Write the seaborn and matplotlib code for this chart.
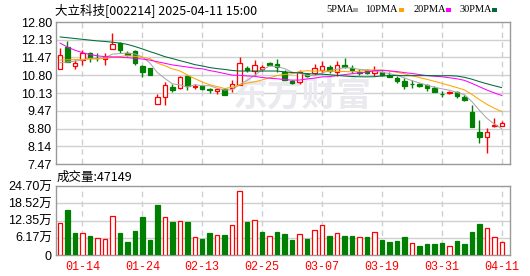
import matplotlib
matplotlib.use("Agg")
import matplotlib.pyplot as plt
from matplotlib.patches import Rectangle
import numpy as np
import pandas as pd
import seaborn as sns

# ---------------- data ----------------
dates = ['01-09', '01-10', '01-13', '01-14', '01-15', '01-16', '01-17', '01-20', '01-21', '01-22',
         '01-23', '01-24', '01-27', '02-05', '02-06', '02-07', '02-10', '02-11', '02-12', '02-13',
         '02-14', '02-17', '02-18', '02-19', '02-20', '02-21', '02-24', '02-25', '02-26', '02-27',
         '02-28', '03-03', '03-04', '03-05', '03-06', '03-07', '03-10', '03-11', '03-12', '03-13',
         '03-14', '03-17', '03-18', '03-19', '03-20', '03-21', '03-24', '03-25', '03-26', '03-27',
         '03-28', '03-31', '04-01', '04-02', '04-03', '04-07', '04-08', '04-09', '04-10', '04-11']

open_ = [11.05, 11.87, 11.15, 11.385, 11.625, 11.45, 11.42, 11.805, 12.01, 11.64,
         11.70, 11.13, 11.07, 9.74, 10.00, 10.37, 10.32, 10.755, 10.36, 10.40,
         10.27, 10.21, 10.30, 10.32, 10.435, 11.09, 10.96, 11.02, 11.26, 11.24,
         10.94, 10.60, 10.55, 10.85, 10.885, 10.98, 11.12, 10.92, 11.18, 11.09,
         10.94, 10.98, 10.87, 10.92, 10.81, 10.705, 10.585, 10.48, 10.47, 10.42,
         10.34, 10.115, 10.12, 10.17, 10.00, 9.43, 8.68, 8.49, 8.91, 8.90]
high = [11.82, 12.10, 11.37, 11.74, 11.69, 11.64, 11.62, 12.39, 12.06, 11.70,
        11.74, 11.19, 11.08, 10.10, 10.55, 10.49, 10.79, 10.80, 10.47, 10.43,
        10.34, 10.34, 10.34, 10.62, 11.47, 11.13, 11.39, 11.17, 11.30, 11.40,
        11.00, 10.62, 11.00, 10.90, 11.21, 11.33, 11.19, 11.34, 11.46, 11.17,
        11.02, 11.02, 11.15, 10.96, 10.93, 10.755, 10.70, 10.62, 10.51, 10.47,
        10.38, 10.21, 10.21, 10.21, 10.06, 9.68, 9.12, 8.81, 9.185, 9.08]
low = [11.05, 11.29, 11.04, 11.17, 11.31, 11.325, 11.19, 11.775, 11.655, 11.51,
       11.20, 10.72, 10.80, 9.74, 9.67, 10.17, 10.30, 10.25, 10.27, 10.25,
       10.12, 10.10, 10.05, 10.17, 10.42, 10.92, 10.81, 10.96, 11.17, 10.92,
       10.62, 10.49, 10.49, 10.74, 10.80, 10.87, 10.87, 10.79, 11.07, 10.90,
       10.81, 10.83, 10.79, 10.79, 10.72, 10.50, 10.27, 10.34, 10.36, 10.22,
       10.17, 10.00, 10.11, 9.93, 9.835, 8.86, 8.27, 7.89, 8.87, 8.88]
close = [11.55, 11.31, 11.27, 11.64, 11.44, 11.43, 11.50, 11.96, 11.74, 11.55,
         11.26, 10.94, 10.81, 9.97, 10.435, 10.25, 10.74, 10.40, 10.40, 10.27,
         10.23, 10.27, 10.06, 10.47, 11.25, 11.00, 11.20, 11.10, 11.20, 11.12,
         10.64, 10.52, 10.91, 10.79, 11.055, 11.16, 10.96, 11.17, 11.10, 10.98,
         10.90, 10.87, 10.99, 10.82, 10.74, 10.57, 10.40, 10.46, 10.40, 10.32,
         10.18, 10.10, 10.19, 10.02, 9.89, 8.87, 8.48, 8.68, 8.93, 9.02]

# volume in 万手
vol_wan = [11.57, 16.11, 8.0, 8.0, 6.8, 5.97, 5.73, 13.96, 8.0, 4.77,
           8.59, 13.72, 5.37, 18.02, 13.48, 11.93, 12.17, 11.93, 6.32, 5.73,
           8.0, 7.16, 7.16, 10.74, 22.9, 11.93, 12.53, 8.35, 6.80, 8.35,
           7.52, 5.37, 7.52, 5.73, 8.95, 10.74, 6.80, 8.0, 6.80, 6.80,
           6.32, 6.32, 8.23, 5.37, 4.77, 5.13, 6.32, 4.18, 3.22, 3.94,
           3.94, 4.41, 3.22, 5.01, 3.94, 8.23, 11.1, 9.55, 6.32, 4.7149]
vol_up = [1, 0, 0, 1, 0, 1, 1, 1, 0, 0,
          0, 0, 0, 0, 1, 0, 1, 0, 1, 0,
          0, 1, 0, 1, 1, 0, 1, 0, 1, 0,
          0, 0, 1, 0, 1, 1, 0, 1, 0, 0,
          1, 0, 1, 0, 0, 0, 0, 1, 0, 0,
          0, 0, 1, 0, 0, 0, 0, 1, 1, 1]

# moving-average values before a full window is available
ma5_head = [11.27, 11.30, 11.33, 11.37]
ma10_head = [11.37, 11.38, 11.39, 11.40, 11.41, 11.42, 11.44, 11.47, 11.50]
ma20_head = [12.01, 11.86, 11.74, 11.65, 11.58, 11.53, 11.50, 11.49, 11.48, 11.46,
             11.44, 11.41, 11.37, 11.31, 11.25, 11.19, 11.15, 11.11, 11.07]
ma30_head = [12.24, 12.21, 12.18, 12.15, 12.12, 12.09, 12.07, 12.04, 12.01, 11.96,
             11.88, 11.79, 11.69, 11.60, 11.50, 11.43, 11.35, 11.28, 11.20, 11.15,
             11.09, 11.05, 11.02, 10.98, 10.96, 10.96, 10.96, 10.96, 10.96]

ma_names = ['5PMA', '10PMA', '20PMA', '30PMA']
ma_windows = [5, 10, 20, 30]
ma_heads = [ma5_head, ma10_head, ma20_head, ma30_head]
ma_colors = ['#a8a8a8', '#ffa500', '#ff00ff', '#006b3a']

price_ticks = [7.47, 8.14, 8.80, 9.47, 10.13, 10.80, 11.47, 12.13, 12.80]
price_tick_labels = ['7.47', '8.14', '8.80', '9.47', '10.13', '10.80', '11.47', '12.13', '12.80']
vol_ticks = [0, 6.17, 12.35, 18.52, 24.70]
vol_tick_labels = ['0', '6.17万', '12.35万', '18.52万', '24.70万']
tick_dates = ['01-14', '01-24', '02-13', '02-25', '03-07', '03-19', '03-31', '04-11']

title = '大立科技[002214] 2025-04-11 15:00'
vol_title = '成交量:'
watermark = '东方财富'

# ---------------- style ----------------
sns.set_style('white')
plt.rcParams['font.family'] = ['Liberation Sans', 'Noto Sans CJK SC', 'DejaVu Sans']

W, H = 530, 276
fig = plt.figure(figsize=(W / 100, H / 100), dpi=100)


def fx(px):
    return px / W


def fy(py):
    return 1 - py / H


L, R = 56, 510
ax = fig.add_axes([fx(L), fy(164), fx(R) - fx(L), fy(22) - fy(164)])
axv = fig.add_axes([fx(L), fy(255), fx(R) - fx(L), fy(186) - fy(255)])

n = len(close)
x = np.arange(n)
o = np.array(open_)
c = np.array(close)
hi = np.array(high)
lo = np.array(low)
RED = '#ff0000'
GREEN = '#008000'

df = pd.DataFrame({'i': x, 'close': c})
for name, w, head in zip(ma_names, ma_windows, ma_heads):
    s = df['close'].rolling(w).mean()
    s.iloc[:w - 1] = head
    df[name] = s
long = df.melt(id_vars='i', value_vars=ma_names, var_name='ma', value_name='value')

xlim = (-0.53, 60.1)
tick_pos = [dates.index(d) for d in tick_dates]

# ---------------- price panel ----------------
ax.set_xlim(*xlim)
ax.set_ylim(price_ticks[0], price_ticks[-1])
ax.set_yticks(price_ticks)
ax.set_yticklabels(price_tick_labels)
ax.set_xticks(tick_pos)
ax.set_xticklabels([])
ax.tick_params(axis='both', length=0)
ax.tick_params(axis='y', pad=3, labelsize=9, labelcolor='#000000')
for t in price_ticks[1:-1]:
    ax.axhline(t, color='#d0d0d0', lw=1, zorder=0)
for p in tick_pos:
    ax.axvline(p, color='#cfcfcf', lw=1, ls=(0, (4, 3)), zorder=0)

ax.text((302 - L) / (R - L), (164 - 95.5) / 142, watermark, transform=ax.transAxes,
        ha='center', va='center', fontsize=25, fontweight='bold', color='#e9e9ee',
        family=['Noto Sans CJK SC'], zorder=1)

up = c >= o
edge = np.where(up, RED, GREEN)
face = np.where(up, '#ffffff', GREEN)
ax.vlines(x, lo, hi, colors=edge, linewidth=1, zorder=5)
ax.bar(x, np.maximum(np.abs(c - o), 0.004), bottom=np.minimum(o, c), width=0.6,
       color=face, edgecolor=edge, linewidth=0.9, zorder=6)

sns.lineplot(data=long, x='i', y='value', hue='ma', hue_order=ma_names,
             palette=dict(zip(ma_names, ma_colors)), legend=False, ax=ax,
             linewidth=0.75, zorder=7)
ax.set_xlabel('')
ax.set_ylabel('')

for sp in ax.spines.values():
    sp.set_color('#999999')
    sp.set_linewidth(1)

# ---------------- volume panel ----------------
axv.set_xlim(*xlim)
axv.set_ylim(0, vol_ticks[-1])
axv.set_yticks(vol_ticks)
axv.set_yticklabels(vol_tick_labels)
axv.set_xticks(tick_pos)
axv.set_xticklabels(tick_dates, color=RED, family=['Liberation Mono'], fontsize=8.5)
axv.tick_params(axis='both', length=0)
axv.tick_params(axis='y', pad=3, labelsize=9, labelcolor='#000000')
axv.tick_params(axis='x', pad=4)
for t in vol_ticks[1:-1]:
    axv.axhline(t, color='#d0d0d0', lw=1, zorder=0)
for p in tick_pos:
    axv.axvline(p, color='#cfcfcf', lw=1, ls=(0, (4, 3)), zorder=0)

vu = np.array(vol_up).astype(bool)
axv.bar(x, vol_wan, width=0.6, color=np.where(vu, '#ffffff', GREEN),
        edgecolor=np.where(vu, RED, GREEN), linewidth=0.9, zorder=5)
for sp in axv.spines.values():
    sp.set_color('#999999')
    sp.set_linewidth(1)

# ---------------- texts ----------------
fig.text(fx(55), fy(10), title, ha='left', va='center', fontsize=9,
         family=['Noto Sans CJK SC', 'DejaVu Sans'], color='#000000')
fig.text(fx(57), fy(177), vol_title + str(int(round(vol_wan[-1] * 10000))), ha='left',
         va='center', fontsize=9, family=['Noto Sans CJK SC', 'DejaVu Sans'], color='#000000')

leg_text_x = [326, 365, 414, 459]
leg_sw_x = [353, 399, 446, 492]
for name, col, tx, sx in zip(ma_names, ma_colors, leg_text_x, leg_sw_x):
    fig.text(fx(tx), fy(10), name, ha='left', va='center', fontsize=7.5,
             family=['Liberation Serif'], color='#000000')
    fig.add_artist(Rectangle((fx(sx), fy(11.5)), 5 / W, 3 / H, transform=fig.transFigure,
                             color=col, lw=0))

fig.savefig('out.png', dpi=100)
